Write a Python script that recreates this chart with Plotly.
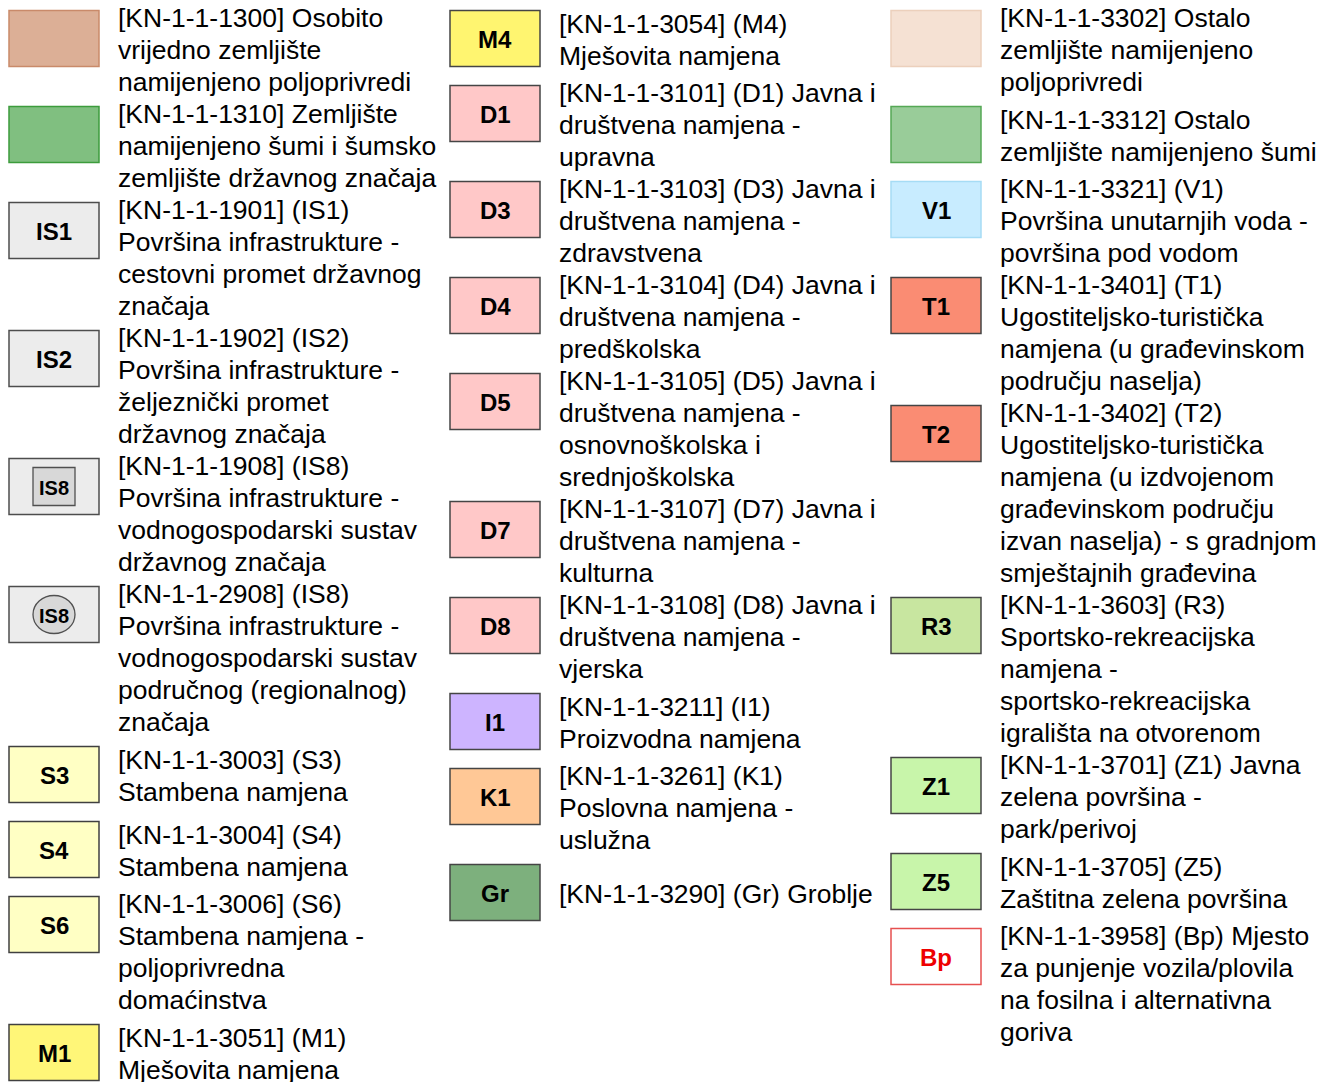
import plotly.graph_objects as go

# ---------------- data ----------------
col1_labels = [
    "[KN-1-1-1300] Osobito\nvrijedno zemljište\nnamijenjeno poljoprivredi",
    "[KN-1-1-1310] Zemljište\nnamijenjeno šumi i šumsko\nzemljište državnog značaja",
    "[KN-1-1-1901] (IS1)\nPovršina infrastrukture -\ncestovni promet državnog\nznačaja",
    "[KN-1-1-1902] (IS2)\nPovršina infrastrukture -\nželjeznički promet\ndržavnog značaja",
    "[KN-1-1-1908] (IS8)\nPovršina infrastrukture -\nvodnogospodarski sustav\ndržavnog značaja",
    "[KN-1-1-2908] (IS8)\nPovršina infrastrukture -\nvodnogospodarski sustav\npodručnog (regionalnog)\nznačaja",
    "[KN-1-1-3003] (S3)\nStambena namjena",
    "[KN-1-1-3004] (S4)\nStambena namjena",
    "[KN-1-1-3006] (S6)\nStambena namjena -\npoljoprivredna\ndomaćinstva",
    "[KN-1-1-3051] (M1)\nMješovita namjena",
]
col1_symbols = ["", "", "IS1", "IS2", "IS8", "IS8", "S3", "S4", "S6", "M1"]
col1_kinds = ["plain", "plain", "plain", "plain", "box", "ellipse", "plain", "plain", "plain", "plain"]
col1_fills = ["#dcaf96", "#80bf80", "#ececec", "#ececec", "#ececec", "#ececec",
              "#ffffc4", "#ffffc4", "#ffffc4", "#fff678"]
col1_borders = ["#c98a6a", "#3c9c3c", "#4d4d4d", "#4d4d4d", "#4d4d4d", "#4d4d4d",
                "#404040", "#404040", "#404040", "#404040"]

col2_labels = [
    "[KN-1-1-3054] (M4)\nMješovita namjena",
    "[KN-1-1-3101] (D1) Javna i\ndruštvena namjena -\nupravna",
    "[KN-1-1-3103] (D3) Javna i\ndruštvena namjena -\nzdravstvena",
    "[KN-1-1-3104] (D4) Javna i\ndruštvena namjena -\npredškolska",
    "[KN-1-1-3105] (D5) Javna i\ndruštvena namjena -\nosnovnoškolska i\nsrednjoškolska",
    "[KN-1-1-3107] (D7) Javna i\ndruštvena namjena -\nkulturna",
    "[KN-1-1-3108] (D8) Javna i\ndruštvena namjena -\nvjerska",
    "[KN-1-1-3211] (I1)\nProizvodna namjena",
    "[KN-1-1-3261] (K1)\nPoslovna namjena -\nuslužna",
    "[KN-1-1-3290] (Gr) Groblje",
]
col2_symbols = ["M4", "D1", "D3", "D4", "D5", "D7", "D8", "I1", "K1", "Gr"]
col2_kinds = ["plain"] * 10
col2_fills = ["#fff570", "#ffc8c8", "#ffc8c8", "#ffc8c8", "#ffc8c8", "#ffc8c8",
              "#ffc8c8", "#cdb4ff", "#ffc896", "#7db07d"]
col2_borders = ["#454545"] * 10

col3_labels = [
    "[KN-1-1-3302] Ostalo\nzemljište namijenjeno\npoljoprivredi",
    "[KN-1-1-3312] Ostalo\nzemljište namijenjeno šumi",
    "[KN-1-1-3321] (V1)\nPovršina unutarnjih voda -\npovršina pod vodom",
    "[KN-1-1-3401] (T1)\nUgostiteljsko-turistička\nnamjena (u građevinskom\npodručju naselja)",
    "[KN-1-1-3402] (T2)\nUgostiteljsko-turistička\nnamjena (u izdvojenom\ngrađevinskom području\nizvan naselja) - s gradnjom\nsmještajnih građevina",
    "[KN-1-1-3603] (R3)\nSportsko-rekreacijska\nnamjena -\nsportsko-rekreacijska\nigrališta na otvorenom",
    "[KN-1-1-3701] (Z1) Javna\nzelena površina -\npark/perivoj",
    "[KN-1-1-3705] (Z5)\nZaštitna zelena površina",
    "[KN-1-1-3958] (Bp) Mjesto\nza punjenje vozila/plovila\nna fosilna i alternativna\ngoriva",
]
col3_symbols = ["", "", "V1", "T1", "T2", "R3", "Z1", "Z5", "Bp"]
col3_kinds = ["plain"] * 9
col3_fills = ["#f5e1d3", "#99cc99", "#c8ecff", "#fa8c73", "#fa8c73", "#c8e6a0",
              "#c8f5aa", "#c8f5aa", "#ffffff"]
col3_borders = ["#ecd0bc", "#55a855", "#a6dcf5", "#454545", "#454545", "#454545",
                "#454545", "#454545", "#e65050"]
col3_symbol_colors = ["#000000"] * 8 + ["#ee0000"]

# ---------------- layout constants ----------------
W, H = 1321, 1082
LINE_H = 32
MIN_BLOCK = 75
SW_W, SW_H = 90, 56
SW_TOP_OFF = 8.5
START_Y = 2
TEXT_FONT = "Liberation Sans, Arial, sans-serif"

columns = [
    (9, 116, col1_labels, col1_symbols, col1_kinds, col1_fills, col1_borders, ["#000000"] * 10),
    (450, 557, col2_labels, col2_symbols, col2_kinds, col2_fills, col2_borders, ["#000000"] * 10),
    (891, 998, col3_labels, col3_symbols, col3_kinds, col3_fills, col3_borders, col3_symbol_colors),
]

shapes = []
annotations = []

for sw_x, tx_x, labels, symbols, kinds, fills, borders, sym_cols in columns:
    y = START_Y
    for lab, sym, kind, fill, border, scol in zip(labels, symbols, kinds, fills, borders, sym_cols):
        lines = lab.split("\n")
        n = len(lines)
        block = max(n * LINE_H, MIN_BLOCK)
        text_top = y + (block - n * LINE_H) / 2
        for i, ln in enumerate(lines):
            annotations.append(dict(
                x=tx_x, y=text_top + LINE_H * (i + 0.5), xref="x", yref="y",
                text=ln, showarrow=False, xanchor="left", yanchor="middle",
                font=dict(family=TEXT_FONT, size=26.5, color="#000000"),
            ))
        sy0 = y + SW_TOP_OFF
        sy1 = sy0 + SW_H
        shapes.append(dict(type="rect", x0=sw_x, x1=sw_x + SW_W, y0=sy0, y1=sy1,
                           xref="x", yref="y", fillcolor=fill,
                           line=dict(color=border, width=1.5), layer="above"))
        cx = sw_x + SW_W / 2
        cy = (sy0 + sy1) / 2
        if kind in ("box", "ellipse"):
            shapes.append(dict(type="rect" if kind == "box" else "circle",
                               x0=cx - 21, x1=cx + 21, y0=cy - 19, y1=cy + 19,
                               xref="x", yref="y", fillcolor="#d8d8d8",
                               line=dict(color="#505050", width=1.3), layer="above"))
            annotations.append(dict(
                x=cx, y=cy + 1, xref="x", yref="y", text="<b>" + sym + "</b>",
                showarrow=False, xanchor="center", yanchor="middle",
                font=dict(family="Liberation Sans Narrow, Liberation Sans, Arial, sans-serif",
                          size=20, color="#000000"),
            ))
        elif sym:
            annotations.append(dict(
                x=cx, y=cy + 1, xref="x", yref="y", text="<b>" + sym + "</b>",
                showarrow=False, xanchor="center", yanchor="middle",
                font=dict(family=TEXT_FONT, size=24, color=scol),
            ))
        y += block

fig = go.Figure()
fig.update_layout(
    width=W, height=H,
    margin=dict(l=0, r=0, t=0, b=0),
    paper_bgcolor="#ffffff", plot_bgcolor="#ffffff",
    xaxis=dict(range=[0, W], visible=False, fixedrange=True),
    yaxis=dict(range=[H, 0], visible=False, fixedrange=True),
    shapes=shapes, annotations=annotations, showlegend=False,
)
fig.write_html(
    "out.html",
    config={"displayModeBar": False},
    post_script="document.body.style.margin='0';document.body.style.overflow='hidden';",
)
